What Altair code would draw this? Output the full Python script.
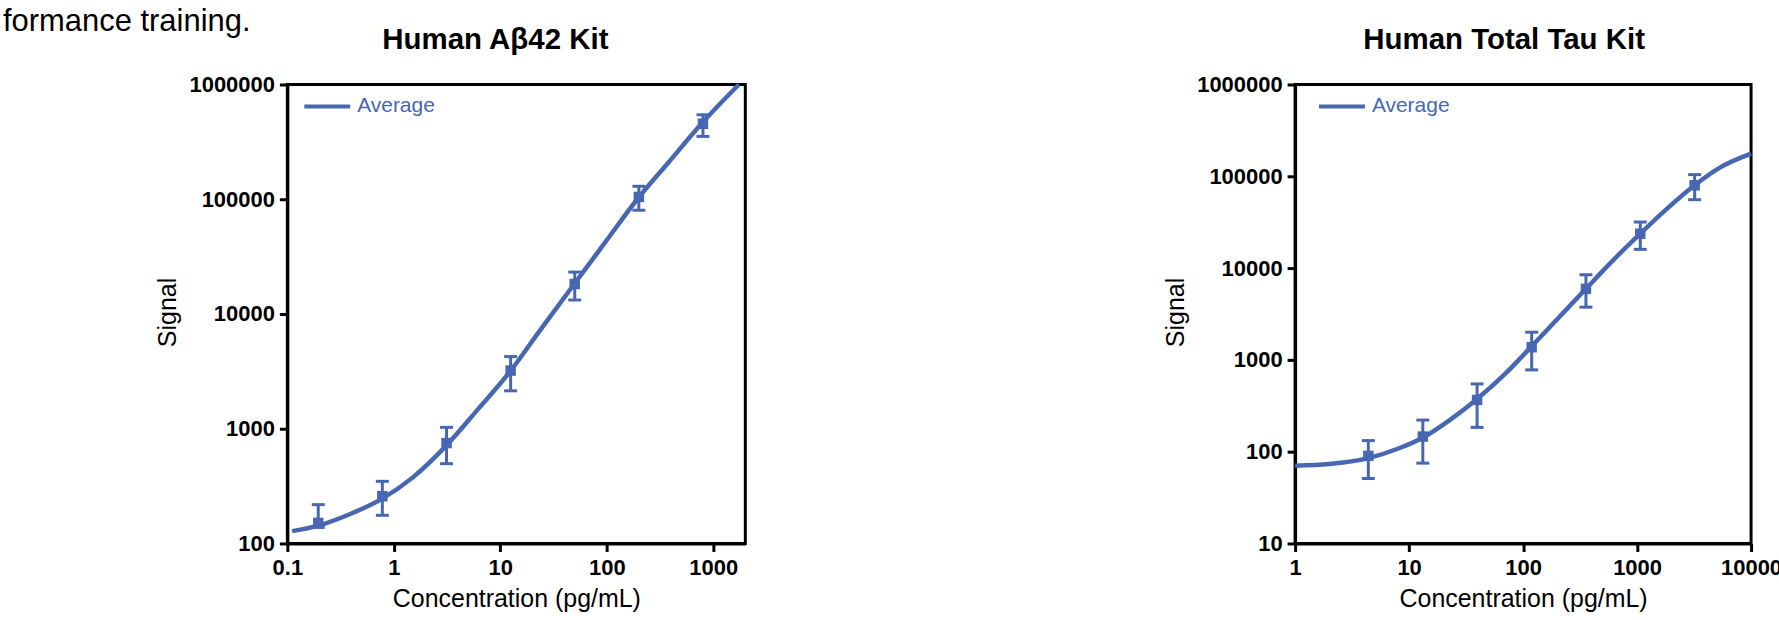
import altair as alt
import pandas as pd

BLUE = "#4767B3"
FONT = "Liberation Sans"

# ---- text -----------------------------------------------------------------
page_text = ["formance training."]
titles = ["Human A\u03b242 Kit", "Human Total Tau Kit"]
x_title = "Concentration (pg/mL)"
y_title = "Signal"
series_name = "Average"

# ---- left panel: Human Abeta42 ---------------------------------------------
ab_conc = [0.195, 0.78, 3.125, 12.5, 50, 200, 800]
ab_mean = [151, 258, 750, 3215, 18240, 104700, 455000]
ab_lo = [138, 176, 496, 2140, 13240, 80200, 353000]
ab_hi = [218, 348, 1028, 4255, 23190, 129700, 544500]
ab_fit_x = [0.111, 0.195, 0.38, 0.75, 1.49, 3.06, 6.3, 12.0, 23.6, 48.7, 96, 190, 376, 774, 1740]
ab_fit_y = [128, 143, 179, 241, 373, 702, 1513, 3050, 7200, 17900, 41800, 98000, 207000, 455000, 1000000]
ab_xticks = [0.1, 1, 10, 100, 1000]
ab_yticks = [100, 1000, 10000, 100000, 1000000]
ab_xdom = [0.1, 2000]
ab_ydom = [100, 1000000]

# ---- right panel: Human Total Tau ------------------------------------------
tau_conc = [4.39, 13.2, 39.5, 119, 356, 1067, 3200]
tau_mean = [90, 146, 366, 1374, 5950, 23700, 79800]
tau_lo = [51, 75, 184, 778, 3755, 16000, 55600]
tau_hi = [132, 221, 547, 2003, 8460, 31750, 104200]
tau_fit_x = [1, 1.99, 4.39, 7.85, 13.3, 22.4, 39.5, 69.5, 119, 207, 356, 615, 1067, 1833, 3200, 5458, 10000]
tau_fit_y = [70.3, 73.3, 85, 107, 143, 218, 375, 703, 1409, 2917, 5950, 12130, 23700, 44400, 79800, 126500, 176600]
tau_xticks = [1, 10, 100, 1000, 10000]
tau_yticks = [10, 100, 1000, 10000, 100000, 1000000]
tau_xdom = [1, 10000]
tau_ydom = [10, 1000000]


def panel(title, conc, mean, lo, hi, fx, fy, xdom, ydom, xticks, yticks, width,
          legend_x, title_dx, lead_text=None):
    pts = pd.DataFrame({"conc": conc, "mean": mean, "lo": lo, "hi": hi})
    fit = pd.DataFrame({"conc": fx, "signal": fy, "series": [series_name] * len(fx)})

    xs = alt.Scale(type="log", domain=xdom, nice=False)
    ys = alt.Scale(type="log", domain=ydom, nice=False)
    xax = alt.Axis(values=xticks, labelExpr="'' + datum.value", grid=False,
                   labelFlush=False, labelPadding=6, titleY=55, titleBaseline="middle")
    yax = alt.Axis(values=yticks, labelExpr="'' + datum.value", grid=False,
                   labelFlush=False, labelPadding=5, titleX=-120, titleY=228,
                   titleBaseline="middle")

    def X():
        return alt.X("conc:Q", scale=xs, axis=xax, title=x_title)

    def Y(field):
        return alt.Y(f"{field}:Q", scale=ys, axis=yax, title=y_title)

    line = alt.Chart(fit).mark_line(strokeWidth=4.5, interpolate="monotone").encode(
        x=X(), y=Y("signal"),
        color=alt.Color("series:N",
                        scale=alt.Scale(domain=[series_name], range=[BLUE]),
                        legend=alt.Legend(orient="none", legendX=legend_x, legendY=-3, title=None,
                                          symbolType="stroke", symbolSize=2116,
                                          symbolStrokeWidth=4, labelFont=FONT,
                                          labelFontSize=21, labelColor=BLUE,
                                          labelOffset=5, padding=0)),
    )
    bars = alt.Chart(pts).mark_rule(strokeWidth=3, color=BLUE).encode(
        x=X(), y=Y("lo"), y2="hi:Q")
    cap_hi = alt.Chart(pts).mark_tick(orient="horizontal", size=13, thickness=3, color=BLUE,
                                      opacity=1).encode(x=X(), y=Y("hi"))
    cap_lo = alt.Chart(pts).mark_tick(orient="horizontal", size=13, thickness=3, color=BLUE,
                                      opacity=1).encode(x=X(), y=Y("lo"))
    squares = alt.Chart(pts).mark_square(size=110, color=BLUE, opacity=1, filled=True).encode(
        x=X(), y=Y("mean"))

    ttl = alt.Chart(pd.DataFrame({"label": [title]})).mark_text(
        font=FONT, fontSize=29.5, fontWeight="bold", color="black",
        align="center", baseline="middle").encode(
        x=alt.value(width / 2 + title_dx), y=alt.value(-45), text="label:N")

    layers = [line, bars, cap_hi, cap_lo, squares, ttl]
    if lead_text is not None:
        lead = alt.Chart(pd.DataFrame({"label": lead_text})).mark_text(
            font=FONT, fontSize=31, color="black", align="left",
            baseline="alphabetic").encode(
            x=alt.value(-285), y=alt.value(-54), text="label:N")
        layers.append(lead)

    return alt.layer(*layers).properties(width=width, height=460)


left = panel(titles[0], ab_conc, ab_mean, ab_lo, ab_hi, ab_fit_x, ab_fit_y,
             ab_xdom, ab_ydom, ab_xticks, ab_yticks, 459, 15, -21, lead_text=page_text)
right = panel(titles[1], tau_conc, tau_mean, tau_lo, tau_hi, tau_fit_x, tau_fit_y,
              tau_xdom, tau_ydom, tau_xticks, tau_yticks, 457, 22, -19)

chart = alt.hconcat(left, right, spacing=551, bounds="flush").resolve_scale(
    color="independent").resolve_legend(color="independent").properties(
    padding={"left": 1, "top": 3, "right": -5, "bottom": 2},
    background="white",
).configure(font=FONT).configure_view(
    stroke="black", strokeWidth=3
).configure_axis(
    domainColor="black", domainWidth=3, tickColor="black", tickWidth=3, tickSize=8,
    labelFont=FONT, labelFontWeight="bold", labelFontSize=22, labelColor="black",
    titleFont=FONT, titleFontWeight="normal", titleFontSize=25, titleColor="black",
    grid=False,
)

chart.save("out.html", embed_options={"renderer": "svg", "actions": False})
